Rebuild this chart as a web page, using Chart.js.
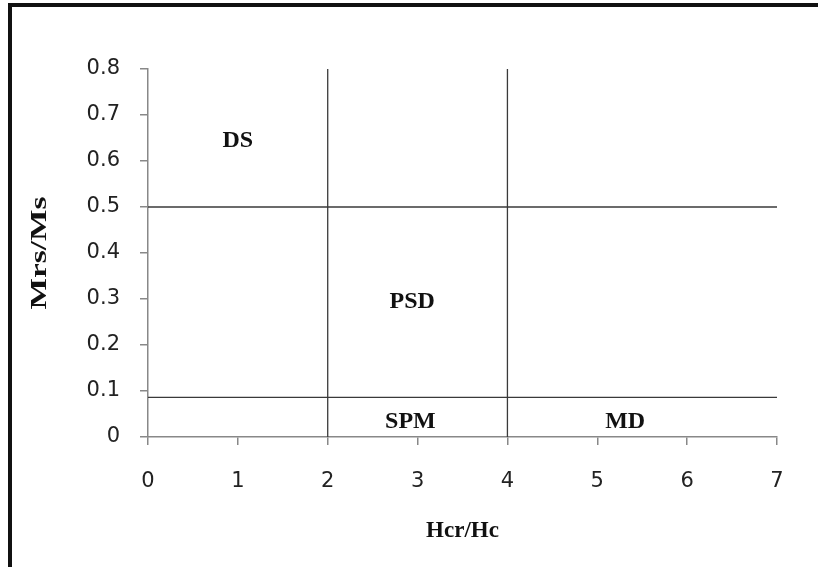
<!DOCTYPE html>
<html lang="en">
  <head>
    <meta charset="UTF-8" />
    <title>Day plot</title>
    <script src="https://cdn.jsdelivr.net/npm/chart.js@4.4.0/dist/chart.umd.min.js"></script>
    <style>
      body { margin: 0; background: #fff; }
      #wrap { position: relative; width: 818px; height: 567px; overflow: hidden; }
      #frame { position: absolute; left: 8px; top: 3px; right: -10px; bottom: -10px;
               border-left: 4px solid #111; border-top: 4px solid #111; pointer-events: none; }
      canvas { position: absolute; left: 0; top: 0; }
    </style>
  </head>
  <body>
    <div id="wrap">
      <canvas id="chart" width="818" height="567"></canvas>
      <div id="frame"></div>
    </div>
    <script>
      // boundaries of the Day plot regions
      const verticalX = [2, 4];          // Hcr/Hc boundaries
      const horizontalY = [0.5, 0.086];  // Mrs/Ms boundaries
      const xRange = [0, 7];
      const yRange = [0, 0.8];

      // region names and where they sit (data coords)
      const regionNames = ['DS', 'PSD', 'SPM', 'MD'];
      const regionX = [1.0, 2.94, 2.92, 5.31];
      const regionY = [0.645, 0.293, 0.033, 0.033];

      const xTicks = ['0', '1', '2', '3', '4', '5', '6', '7'];
      const yTicks = ['0', '0.1', '0.2', '0.3', '0.4', '0.5', '0.6', '0.7', '0.8'];
      const xTitle = 'Hcr/Hc';
      const yTitle = 'Mrs/Ms';

      const lineColor = '#3a3a3a';
      const datasets = [];
      verticalX.forEach(vx => {
        datasets.push({
          data: [{x: vx, y: yRange[0]}, {x: vx, y: yRange[1]}],
          showLine: true, borderColor: lineColor, borderWidth: 1.3,
          pointRadius: 0, clip: false
        });
      });
      horizontalY.forEach(hy => {
        datasets.push({
          data: [{x: xRange[0], y: hy}, {x: xRange[1], y: hy}],
          showLine: true, borderColor: lineColor, borderWidth: 1.3,
          pointRadius: 0, clip: false
        });
      });

      const serif = '"Liberation Serif", "Times New Roman", serif';

      // region names and axis titles
      const textPlugin = {
        id: 'textPlugin',
        afterDraw(chart) {
          const ctx = chart.ctx;
          const xs = chart.scales.x, ys = chart.scales.y;
          const area = chart.chartArea;
          ctx.save();
          ctx.font = 'bold 24px ' + serif;
          ctx.fillStyle = '#111';
          ctx.textAlign = 'center';
          ctx.textBaseline = 'middle';
          regionNames.forEach((name, i) => {
            ctx.fillText(name, xs.getPixelForValue(regionX[i]), ys.getPixelForValue(regionY[i]));
          });

          ctx.font = 'bold 23px ' + serif;
          ctx.fillText(xTitle, (area.left + area.right) / 2, xs.bottom - 36);

          ctx.translate(40, (area.top + area.bottom) / 2);
          ctx.rotate(-Math.PI / 2);
          ctx.scale(1.45, 1);
          ctx.fillText(yTitle, 0, 0);
          ctx.restore();
        }
      };

      const tickFont = {family: '"DejaVu Sans", Verdana, sans-serif', size: 21};

      new Chart(document.getElementById('chart'), {
        type: 'scatter',
        data: {datasets: datasets},
        options: {
          responsive: false,
          animation: false,
          layout: {padding: {left: 0, right: 41, top: 69, bottom: 0}},
          plugins: {legend: {display: false}, tooltip: {enabled: false}},
          scales: {
            x: {
              type: 'linear', min: xRange[0], max: xRange[1],
              afterFit: s => { s.height = 130; },
              ticks: {
                stepSize: 1, color: '#222', font: tickFont, padding: 24,
                callback: (v) => xTicks[Math.round(v)]
              },
              grid: {drawOnChartArea: false, color: '#888', tickLength: 8, lineWidth: 1.5},
              border: {color: '#888', width: 1.5}
            },
            y: {
              type: 'linear', min: yRange[0], max: yRange[1],
              afterFit: s => { s.width = 148; },
              ticks: {
                stepSize: 0.1, color: '#222', font: tickFont, padding: 20,
                callback: (v) => yTicks[Math.round(v * 10)]
              },
              grid: {drawOnChartArea: false, color: '#888', tickLength: 8, lineWidth: 1.5},
              border: {color: '#888', width: 1.5}
            }
          }
        },
        plugins: [textPlugin]
      });
    </script>
  </body>
</html>
